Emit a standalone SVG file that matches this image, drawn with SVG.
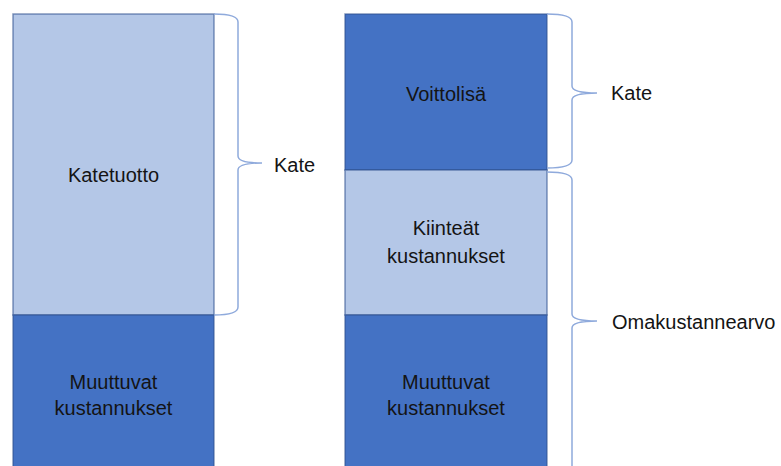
<svg xmlns="http://www.w3.org/2000/svg" width="781" height="466" viewBox="0 0 781 466">
  <style>
    .light { fill: #B4C7E7; stroke: #2F528F; stroke-opacity: 0.6; stroke-width: 1.5; }
    .dark { fill: #4472C4; stroke: #2F528F; stroke-opacity: 0.6; stroke-width: 1.5; }
    .lbl { font-family: "Liberation Sans", Arial, sans-serif; font-size: 20px; fill: #141414; text-anchor: middle; }
    .side { font-family: "Liberation Sans", Arial, sans-serif; font-size: 20px; fill: #141414; }
    .brace { fill: none; stroke: #8FAADC; stroke-width: 1.5; }
  </style>
  <rect width="781" height="466" fill="#FFFFFF"/>

  <!-- left column -->
  <g id="katetuotto">
    <rect class="light" x="13" y="14" width="201" height="301"/>
    <text class="lbl" x="113.5" y="182">Katetuotto</text>
  </g>
  <g id="muuttuvat-left">
    <rect class="dark" x="13" y="315" width="201" height="155"/>
    <text class="lbl" x="113.5" y="389">Muuttuvat</text>
    <text class="lbl" x="113.5" y="415">kustannukset</text>
  </g>

  <!-- right column -->
  <g id="voittolisa">
    <rect class="dark" x="345" y="14" width="202" height="156"/>
    <text class="lbl" x="446" y="101">Voittolisä</text>
  </g>
  <g id="kiinteat">
    <rect class="light" x="345" y="170" width="202" height="145"/>
    <text class="lbl" x="446" y="235">Kiinteät</text>
    <text class="lbl" x="446" y="263">kustannukset</text>
  </g>
  <g id="muuttuvat-right">
    <rect class="dark" x="345" y="315" width="202" height="155"/>
    <text class="lbl" x="446" y="389">Muuttuvat</text>
    <text class="lbl" x="446" y="415">kustannukset</text>
  </g>

  <!-- braces -->
  <g id="braces">
    <path class="brace" d="M214,14 Q238,14 238,22 L238,156 Q238,163 262,163 Q238,163 238,170 L238,307 Q238,315 214,315"/>
    <path class="brace" d="M547,14 Q572,14 572,22 L572,86 Q572,93 597,93 Q572,93 572,100 L572,160 Q572,168 547,168"/>
    <path class="brace" d="M547,172 Q572,172 572,180 L572,314 Q572,321 597,321 Q572,321 572,328 L572,470"/>
  </g>

  <g id="kate-left"><text class="side" x="274" y="172">Kate</text></g>
  <g id="kate-right"><text class="side" x="611" y="100">Kate</text></g>
  <g id="omakustannearvo"><text class="side" x="612" y="329">Omakustannearvo</text></g>
</svg>
